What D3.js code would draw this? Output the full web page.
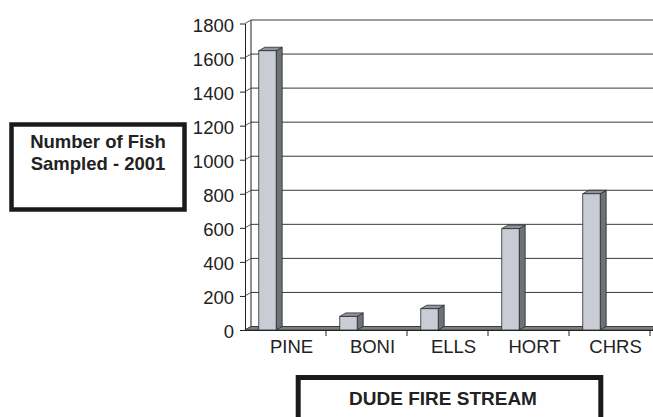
<!DOCTYPE html>
<html>
<head>
<meta charset="utf-8">
<script src="https://cdn.jsdelivr.net/npm/d3@7"></script>
<style>
  html, body { margin: 0; padding: 0; background: #fff; }
  svg { display: block; font-family: "Liberation Sans", Arial, sans-serif; }
</style>
</head>
<body>
<svg id="chart" width="653" height="417"></svg>
<script>
// Fish sampled per stream, 2001
const streams = ["PINE", "BONI", "ELLS", "HORT", "CHRS"];
const fishCounts = [1640, 80, 125, 595, 800];
const yTicks = [0, 200, 400, 600, 800, 1000, 1200, 1400, 1600, 1800];
const yTitleLines = ["Number of Fish", "Sampled - 2001"];
const xTitle = "DUDE FIRE STREAM";

const svg = d3.select("#chart");

// pseudo-3D depth offset of the back wall
const dx = 6, dy = -3.5;

const x = d3.scaleBand().domain(streams).range([245, 650]);
const y = d3.scaleLinear().domain([0, 1800]).range([330, 23.5]);
const bw = x.bandwidth();
const barLeft = bw * 0.17, barWidth = bw * 0.215;

// back wall gridlines
svg.append("g").selectAll("line").data(yTicks).join("line")
  .attr("x1", 245 + dx).attr("x2", 653)
  .attr("y1", d => y(d) + dy).attr("y2", d => y(d) + dy)
  .attr("stroke", "#3a3a3a").attr("stroke-width", 1);

// left wall: back edge and connectors from the ticks
svg.append("line")
  .attr("x1", 245 + dx).attr("x2", 245 + dx)
  .attr("y1", y(1800) + dy).attr("y2", y(0) + dy)
  .attr("stroke", "#222");
svg.append("g").selectAll("line").data(yTicks).join("line")
  .attr("x1", 245).attr("y1", d => y(d))
  .attr("x2", 245 + dx).attr("y2", d => y(d) + dy)
  .attr("stroke", "#555");

// floor
svg.append("path")
  .attr("d", `M245,${y(0)}L660,${y(0)}L${660 + dx},${y(0) + dy}L${245 + dx},${y(0) + dy}Z`)
  .attr("fill", "#7d7f82").attr("stroke", "#333").attr("stroke-width", 0.8);

// columns
const bars = svg.append("g").selectAll("g").data(streams.map((s, i) => ({ s, v: fishCounts[i] })))
  .join("g");
bars.each(function (d) {
  const g = d3.select(this);
  const x0 = x(d.s) + barLeft, x1 = x0 + barWidth;
  const yt = y(d.v), yb = y(0);
  // side face
  g.append("path")
    .attr("d", `M${x1},${yb}L${x1 + dx},${yb + dy}L${x1 + dx},${yt + dy}L${x1},${yt}Z`)
    .attr("fill", "#6c7277").attr("stroke", "#2a2a2a").attr("stroke-width", 0.8);
  // top face
  g.append("path")
    .attr("d", `M${x0},${yt}L${x0 + dx},${yt + dy}L${x1 + dx},${yt + dy}L${x1},${yt}Z`)
    .attr("fill", "#8e9499").attr("stroke", "#2a2a2a").attr("stroke-width", 0.8);
  // front face
  g.append("rect")
    .attr("x", x0).attr("y", yt).attr("width", barWidth).attr("height", yb - yt)
    .attr("fill", "#c9ccd4").attr("stroke", "#2a2a2a").attr("stroke-width", 0.8);
});

// value axis
const yAxis = svg.append("g").attr("transform", "translate(245,0)")
  .call(d3.axisLeft(y).tickValues(yTicks).tickFormat(d3.format("d"))
    .tickSize(5).tickPadding(6).tickSizeOuter(0));
yAxis.select(".domain").attr("stroke", "#222");
yAxis.selectAll(".tick line").attr("stroke", "#222");
yAxis.selectAll("text").attr("font-size", 18.5).attr("fill", "#222")
  .attr("font-family", "Liberation Sans, Arial, sans-serif").attr("dy", "0.42em");

// category axis
const xAxis = svg.append("g").attr("transform", `translate(0,${y(0)})`)
  .call(d3.axisBottom(x).tickSize(0).tickSizeOuter(0).tickPadding(10));
xAxis.select(".domain").attr("stroke", "#222").attr("d", `M245,0.5H653`);
xAxis.selectAll("text").attr("font-size", 18.5).attr("fill", "#222")
  .attr("font-family", "Liberation Sans, Arial, sans-serif")
  .attr("dx", 6);
xAxis.selectAll(".tick line").remove();
// tick marks between categories
xAxis.append("g").selectAll("line").data(streams.slice(1).concat(["end"])).join("line")
  .attr("x1", d => d === "end" ? x.range()[1] : x(d))
  .attr("x2", d => d === "end" ? x.range()[1] : x(d))
  .attr("y1", 0).attr("y2", 6).attr("stroke", "#222");

// axis title boxes
const yBox = svg.append("g");
yBox.append("rect").attr("x", 11.5).attr("y", 124.5).attr("width", 173).attr("height", 85)
  .attr("fill", "#fff").attr("stroke", "#1a1a1a").attr("stroke-width", 4.5);
yBox.selectAll("text").data(yTitleLines).join("text")
  .attr("x", 98).attr("y", (d, i) => 147.5 + i * 22)
  .attr("text-anchor", "middle").attr("font-size", 18.5).attr("font-weight", "bold")
  .attr("fill", "#222").text(d => d);

const xBox = svg.append("g");
xBox.append("rect").attr("x", 298.2).attr("y", 377.5).attr("width", 302.6).attr("height", 60)
  .attr("fill", "#fff").attr("stroke", "#1a1a1a").attr("stroke-width", 5);
xBox.append("text").attr("x", 443).attr("y", 405)
  .attr("text-anchor", "middle").attr("font-size", 19).attr("font-weight", "bold")
  .attr("fill", "#222").text(xTitle);
</script>
</body>
</html>
